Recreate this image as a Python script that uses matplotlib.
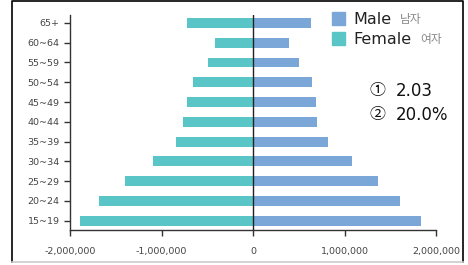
import matplotlib
matplotlib.use("Agg")
import matplotlib.pyplot as plt
from matplotlib.patches import Rectangle
from matplotlib.lines import Line2D
from matplotlib.ticker import FuncFormatter

# age groups, bottom to top
age_groups = ["15~19", "20~24", "25~29", "30~34", "35~39", "40~44",
              "45~49", "50~54", "55~59", "60~64", "65+"]
male = [1840000, 1610000, 1370000, 1080000, 820000, 700000,
        690000, 640000, 500000, 390000, 630000]
female = [1890000, 1680000, 1400000, 1090000, 840000, 760000,
          720000, 660000, 490000, 420000, 720000]
x_ticks = [-2000000, -1000000, 0, 1000000, 2000000]

MALE_COLOR = "#7BA6D8"
FEMALE_COLOR = "#5AC5C7"
TICK_FONT = ["Liberation Sans Narrow", "DejaVu Sans"]
TEXT_FONT = ["DejaVu Sans", "Noto Sans CJK KR"]
NOTE_FONT = ["Noto Sans CJK KR", "DejaVu Sans"]

fig = plt.figure(figsize=(4.68, 2.65), dpi=100)
ax = fig.add_axes([70 / 468, 1 - 230 / 265, 366 / 468, 215 / 265])

ypos = list(range(len(age_groups)))
ax.barh(ypos, male, height=0.5, color=MALE_COLOR)
ax.barh(ypos, [-v for v in female], height=0.5, color=FEMALE_COLOR)
ax.axvline(0, color="#222222", lw=1.0, zorder=3)

ax.set_xlim(-2000000, 2000000)
ax.set_ylim(-0.47, 10.4)
ax.set_yticks(ypos)
ax.set_yticklabels(age_groups)
ax.set_xticks(x_ticks)
ax.xaxis.set_major_formatter(FuncFormatter(lambda v, p: f"{int(v):,}"))

for side in ["top", "right"]:
    ax.spines[side].set_visible(False)
for side in ["left", "bottom"]:
    ax.spines[side].set_color("#333333")
    ax.spines[side].set_linewidth(1.0)
ax.tick_params(axis="both", length=4, width=1, color="#333333",
               labelsize=6.8, labelcolor="#444444")
ax.tick_params(axis="x", pad=8)
for lab in ax.get_xticklabels() + ax.get_yticklabels():
    lab.set_family(TICK_FONT)

# legend built by hand (with Korean labels in grey)
W, H = 468, 265
def fx(px):
    return px / W
def fy(py):
    return 1 - py / H

fig.patches.append(Rectangle((fx(332), fy(25)), 13 / W, 13 / H,
                             transform=fig.transFigure, color=MALE_COLOR))
fig.patches.append(Rectangle((fx(332), fy(45)), 13 / W, 13 / H,
                             transform=fig.transFigure, color=FEMALE_COLOR))
fig.text(fx(353), fy(19), "Male", fontsize=11.5, va="center", family=TEXT_FONT, color="#222222")
fig.text(fx(400), fy(19), "남자", fontsize=8.5, va="center", family=NOTE_FONT, color="#888888")
fig.text(fx(353), fy(40), "Female", fontsize=11.5, va="center", family=TEXT_FONT, color="#222222")
fig.text(fx(420), fy(40), "여자", fontsize=8.5, va="center", family=NOTE_FONT, color="#888888")

fig.text(fx(369), fy(91), "\u2460", fontsize=11.5, va="center", family=NOTE_FONT, color="#111111")
fig.text(fx(396), fy(91), "2.03", fontsize=12, va="center", family=TEXT_FONT, color="#111111")
fig.text(fx(369), fy(115), "\u2461", fontsize=11.5, va="center", family=NOTE_FONT, color="#111111")
fig.text(fx(396), fy(115), "20.0%", fontsize=12, va="center", family=TEXT_FONT, color="#111111")

# outer frame
fig.lines.append(Line2D([fx(12), fx(12), fx(463), fx(463)], [fy(262), fy(1), fy(1), fy(262)],
                        transform=fig.transFigure, color="black", lw=1.2))
fig.lines.append(Line2D([fx(12), fx(463)], [fy(262), fy(262)],
                        transform=fig.transFigure, color="#cccccc", lw=1.2))

fig.savefig("out.png", dpi=100)
